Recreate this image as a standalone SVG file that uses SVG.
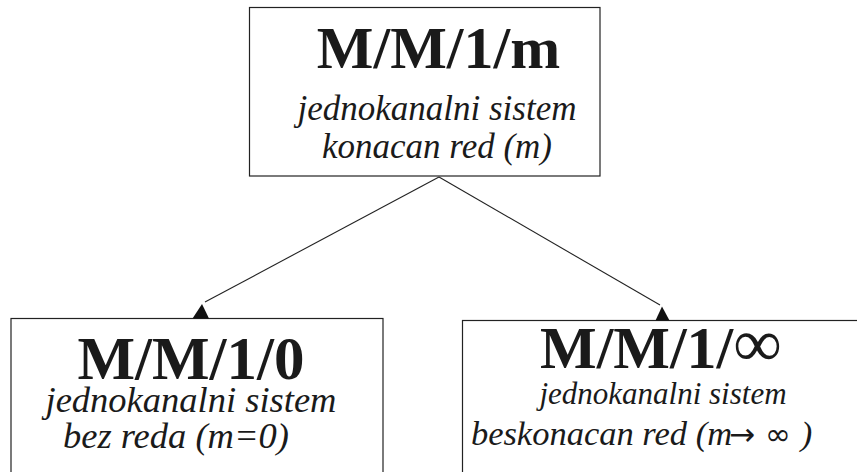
<svg xmlns="http://www.w3.org/2000/svg" width="857" height="472" viewBox="0 0 857 472">
<style>
.box{fill:#fff;stroke:#222;stroke-width:1.2}
.title{font-family:"Liberation Serif","Times New Roman",serif;font-weight:bold;fill:#1a1a1a;text-anchor:middle}
.sub{font-family:"Liberation Serif","Times New Roman",serif;font-style:italic;fill:#1a1a1a;text-anchor:middle}
.sym{font-family:"DejaVu Sans",sans-serif;font-style:normal}
.edge{stroke:#222;stroke-width:1.1;fill:none}
.head{fill:#111}
</style>
<rect width="857" height="472" fill="#fff"/>
<g id="connectors">
<line class="edge" x1="439" y1="177" x2="205" y2="302"/>
<line class="edge" x1="439" y1="177" x2="660" y2="305"/>
</g>
<g id="node-top">
<rect class="box" x="249.5" y="7.5" width="350.5" height="168.5"/>
<text class="title" x="438.5" y="68" font-size="60">M/M/1/m</text>
<text class="sub" x="437" y="119.5" font-size="35">jednokanalni sistem</text>
<text class="sub" x="437" y="158" font-size="35">konacan red (m)</text>
</g>
<g id="node-left">
<rect class="box" x="11" y="318.5" width="372" height="200"/>
<text class="title" x="191" y="378.5" font-size="61">M/M/1/0</text>
<text class="sub" x="191" y="411.5" font-size="36.5">jednokanalni sistem</text>
<text class="sub" x="176" y="448" font-size="36.5">bez reda (m=0)</text>
</g>
<g id="node-right">
<rect class="box" x="462.5" y="320.5" width="420" height="200"/>
<text class="title" x="540" y="368" font-size="60" style="text-anchor:start">M/M/1/<tspan font-weight="normal" font-size="68" dy="-2">∞</tspan></text>
<text class="sub" x="663" y="404" font-size="31">jednokanalni sistem</text>
<text class="sub" x="641.5" y="445" font-size="34.5">beskonacan red (m<tspan class="sym" font-size="31" dx="-3">→</tspan><tspan class="sym" font-size="31"> ∞ </tspan>)</text>
</g>
<g id="arrowheads">
<polygon class="head" points="202,304 192.5,318.5 209,318.5"/>
<polygon class="head" points="662,306.5 655.5,320.5 669.5,320.5"/>
</g>
</svg>
